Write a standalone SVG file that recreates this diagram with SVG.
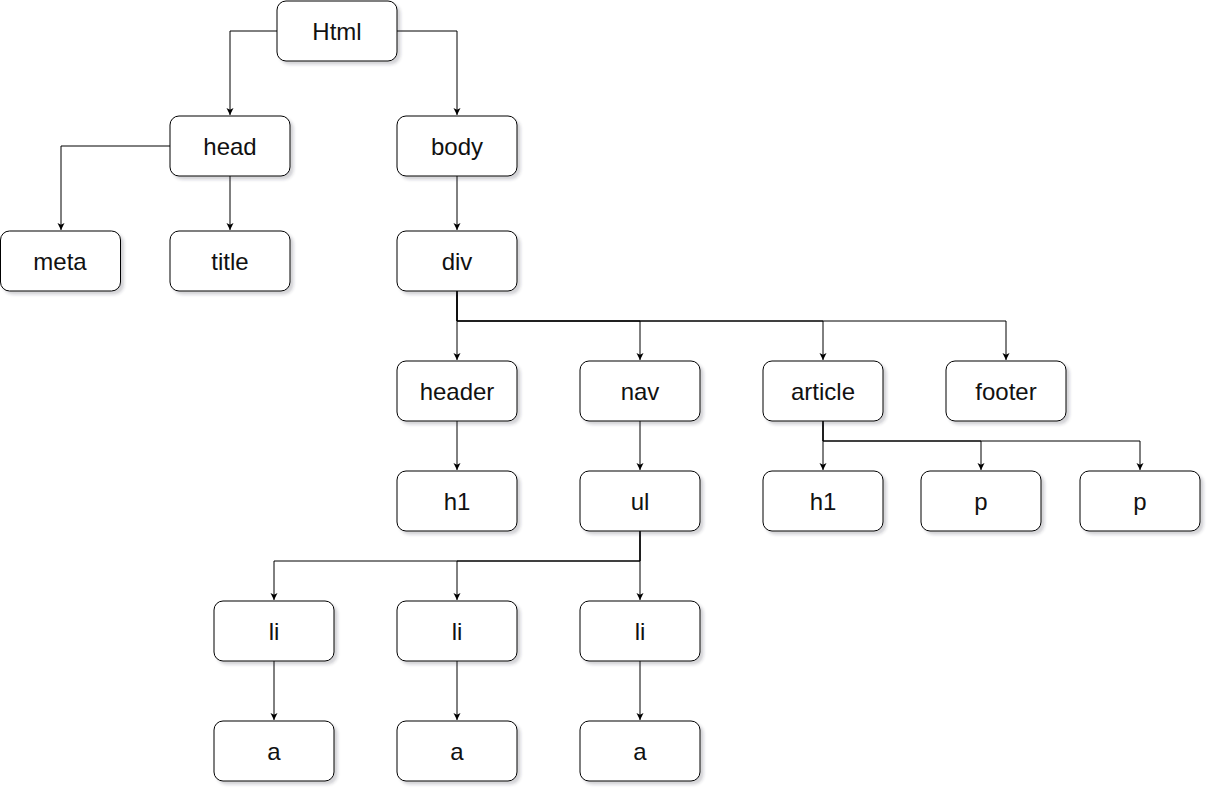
<svg xmlns="http://www.w3.org/2000/svg" width="1213" height="793" viewBox="0 0 1213 793">
<style>
.n rect{fill:#fff;stroke:#000;stroke-width:1;filter:url(#sh)}
.n text{font-family:"Liberation Sans",Arial,sans-serif;font-size:24px;text-anchor:middle;fill:#111}
.c path{fill:none;stroke:#000;stroke-width:1;marker-end:url(#ar)}
</style>
<defs>
<filter id="sh" x="-10%" y="-10%" width="130%" height="140%">
<feGaussianBlur in="SourceAlpha" stdDeviation="1.7"/>
<feOffset dx="3" dy="3" result="b"/>
<feFlood flood-color="#334" flood-opacity="0.22"/>
<feComposite in2="b" operator="in"/>
<feMerge><feMergeNode/><feMergeNode in="SourceGraphic"/></feMerge>
</filter>
<marker id="ar" markerWidth="8" markerHeight="8" refX="7" refY="4" orient="auto" markerUnits="userSpaceOnUse">
<path d="M0,0.5 L7,4 L0,7.5 L1.8,4 Z" fill="#000"/>
</marker>
</defs>
<g class="c" id="connectors">
<path d="M277,31 H230 V115"/>
<path d="M397,31 H457 V115"/>
<path d="M170,146 H61 V230"/>
<path d="M230,176 V230"/>
<path d="M457,176 V230"/>
<path d="M457,291 V360"/>
<path d="M457,291 V321 H640 V360"/>
<path d="M457,291 V321 H823 V360"/>
<path d="M457,291 V321 H1006 V360"/>
<path d="M457,421 V470"/>
<path d="M640,421 V470"/>
<path d="M823,421 V470"/>
<path d="M823,421 V441 H981 V470"/>
<path d="M823,421 V441 H1140 V470"/>
<path d="M640,531 V561 H274 V600"/>
<path d="M640,531 V561 H457 V600"/>
<path d="M640,531 V600"/>
<path d="M274,661 V720"/>
<path d="M457,661 V720"/>
<path d="M640,661 V720"/>
</g>
<g class="n" id="html"><rect x="277" y="1" width="120" height="60" rx="9"/><text x="337" y="39.5">Html</text></g>
<g class="n" id="head"><rect x="170" y="116" width="120" height="60" rx="9"/><text x="230" y="154.5">head</text></g>
<g class="n" id="body"><rect x="397" y="116" width="120" height="60" rx="9"/><text x="457" y="154.5">body</text></g>
<g class="n" id="meta"><rect x="0.5" y="231" width="120" height="60" rx="9"/><text x="60" y="269.5">meta</text></g>
<g class="n" id="title"><rect x="170" y="231" width="120" height="60" rx="9"/><text x="230" y="269.5">title</text></g>
<g class="n" id="div"><rect x="397" y="231" width="120" height="60" rx="9"/><text x="457" y="269.5">div</text></g>
<g class="n" id="header"><rect x="397" y="361" width="120" height="60" rx="9"/><text x="457" y="399.5">header</text></g>
<g class="n" id="nav"><rect x="580" y="361" width="120" height="60" rx="9"/><text x="640" y="399.5">nav</text></g>
<g class="n" id="article"><rect x="763" y="361" width="120" height="60" rx="9"/><text x="823" y="399.5">article</text></g>
<g class="n" id="footer"><rect x="946" y="361" width="120" height="60" rx="9"/><text x="1006" y="399.5">footer</text></g>
<g class="n" id="h1a"><rect x="397" y="471" width="120" height="60" rx="9"/><text x="457" y="509.5">h1</text></g>
<g class="n" id="ul"><rect x="580" y="471" width="120" height="60" rx="9"/><text x="640" y="509.5">ul</text></g>
<g class="n" id="h1b"><rect x="763" y="471" width="120" height="60" rx="9"/><text x="823" y="509.5">h1</text></g>
<g class="n" id="p1"><rect x="921" y="471" width="120" height="60" rx="9"/><text x="981" y="509.5">p</text></g>
<g class="n" id="p2"><rect x="1080" y="471" width="120" height="60" rx="9"/><text x="1140" y="509.5">p</text></g>
<g class="n" id="li1"><rect x="214" y="601" width="120" height="60" rx="9"/><text x="274" y="639.5">li</text></g>
<g class="n" id="li2"><rect x="397" y="601" width="120" height="60" rx="9"/><text x="457" y="639.5">li</text></g>
<g class="n" id="li3"><rect x="580" y="601" width="120" height="60" rx="9"/><text x="640" y="639.5">li</text></g>
<g class="n" id="a1"><rect x="214" y="721" width="120" height="60" rx="9"/><text x="274" y="759.5">a</text></g>
<g class="n" id="a2"><rect x="397" y="721" width="120" height="60" rx="9"/><text x="457" y="759.5">a</text></g>
<g class="n" id="a3"><rect x="580" y="721" width="120" height="60" rx="9"/><text x="640" y="759.5">a</text></g>
</svg>
